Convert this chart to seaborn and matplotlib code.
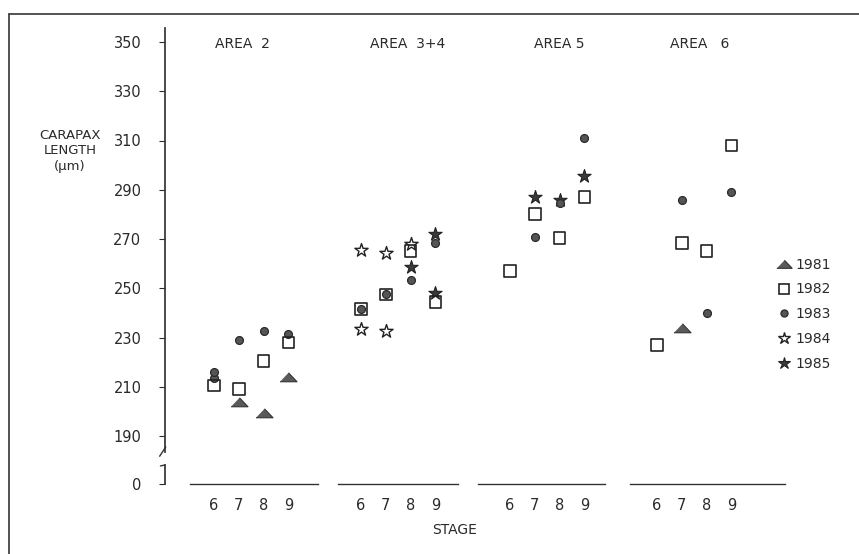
import numpy as np
import pandas as pd
import matplotlib
matplotlib.use("Agg")
import matplotlib.pyplot as plt
import seaborn as sns
from matplotlib.lines import Line2D

# panels, years and ticks
area_names = ["AREA  2", "AREA  3+4", "AREA 5", "AREA   6"]
year_names = [1981, 1982, 1983, 1984, 1985]
stage_ticks = [6, 7, 8, 9]
length_ticks = [190, 210, 230, 250, 270, 290, 310, 330, 350]

# one entry per plotted point
pt_area = [0, 0, 0, 0, 0, 0, 0, 0, 0, 0, 0, 0,
           1, 1, 1, 1, 1, 1, 1, 1, 1, 1, 1, 1, 1, 1, 1, 1,
           2, 2, 2, 2, 2, 2, 2, 2, 2, 2,
           3, 3, 3, 3, 3, 3, 3, 3]
pt_year = [1981, 1981, 1981, 1982, 1982, 1982, 1982, 1983, 1983, 1983, 1983, 1983,
           1982, 1982, 1982, 1982, 1983, 1983, 1983, 1983, 1984, 1984, 1984, 1984, 1984, 1985, 1985, 1985,
           1982, 1982, 1982, 1982, 1983, 1983, 1983, 1985, 1985, 1985,
           1981, 1982, 1982, 1982, 1982, 1983, 1983, 1983]
pt_stage = [7, 8, 9, 6, 7, 8, 9, 6, 6, 7, 8, 9,
            6, 7, 8, 9, 6, 7, 8, 9, 6, 7, 8, 6, 7, 8, 9, 9,
            6, 7, 8, 9, 7, 8, 9, 7, 8, 9,
            7, 6, 7, 8, 9, 7, 8, 9]
pt_length = [204, 199.5, 214, 210.5, 209, 220.5, 228, 213.5, 216, 229, 232.5, 231.5,
             241.5, 247.5, 265, 244.5, 241.5, 247.5, 253.5, 268.5, 265.5, 264.5, 268, 233.5, 232.5,
             258.5, 272, 248,
             257, 280, 270.5, 287, 271, 284.5, 311, 287, 286, 295.5,
             234, 227, 268.5, 265, 308, 286, 240, 289]

df = pd.DataFrame({"area": pt_area, "year": pt_year, "stage": pt_stage, "length": pt_length})

tri = [(-1, -0.5), (1, -0.5), (0, 0.55)]
styles = {
    1981: dict(marker=tri, s=150, color="#5a5a5a", edgecolor="#333333", linewidth=0.8, zorder=3),
    1982: dict(marker="s", s=72, color="none", edgecolor="#222222", linewidth=1.2, zorder=5),
    1983: dict(marker="o", s=32, color="#555555", edgecolor="#2a2a2a", linewidth=0.9, zorder=4),
    1984: dict(marker="*", s=100, color="white", edgecolor="#222222", linewidth=1.0, zorder=3),
    1985: dict(marker="*", s=100, color="#3a3a3a", edgecolor="#222222", linewidth=0.8, zorder=3),
}

sns.set_theme(style="white")
plt.rcParams["font.family"] = ["DejaVu Sans"]
plt.rcParams["text.color"] = "#2a2a2a"
plt.rcParams["xtick.color"] = "#2a2a2a"
plt.rcParams["ytick.color"] = "#2a2a2a"

W, H = 859, 554
fig = plt.figure(figsize=(W / 100, H / 100), dpi=100)

k = 24.8  # pixels per stage
cols = [(165, 318, 214), (338, 458, 361), (478, 605, 510), (630, 785, 657)]
title_px = [215, 370, 534, 670]
top_px, brk_px = 28, 452
low_top, zero_px = 465, 484
y_per_px = 20 / 49.25
y_hi = 350 + (42 - top_px) * y_per_px
y_lo = 350 - (brk_px - 42) * y_per_px

for i, (L, R, S) in enumerate(cols):
    xlim = (6 + (L - S) / k, 6 + (R - S) / k)
    ax = fig.add_axes([L / W, 1 - brk_px / H, (R - L) / W, (brk_px - top_px) / H])
    bx = fig.add_axes([L / W, 1 - zero_px / H, (R - L) / W, (zero_px - low_top) / H])
    sub = df[df.area == i]
    for yr in year_names:
        d = sub[sub.year == yr]
        if len(d):
            sns.scatterplot(data=d, x="stage", y="length", ax=ax, legend=False, **styles[yr])
    ax.set_xlim(xlim)
    ax.set_ylim(y_lo, y_hi)
    ax.set_xlabel("")
    ax.set_ylabel("")
    ax.set_xticks([])
    for sp in ax.spines.values():
        sp.set_visible(False)
    ax.text(6 + (title_px[i] - S) / k, 349.2, area_names[i],
            ha="left", va="center", fontsize=10)

    bx.set_xlim(xlim)
    bx.set_ylim(0, 1)
    for sp in bx.spines.values():
        sp.set_visible(False)
    bx.spines["bottom"].set_visible(True)
    bx.spines["bottom"].set_color("#333333")
    bx.spines["bottom"].set_linewidth(1.0)
    bx.set_xticks(stage_ticks)
    bx.set_xticklabels([str(s) for s in stage_ticks], fontsize=10.5)
    bx.tick_params(axis="x", direction="out", length=3, width=0.8, pad=7)

    if i == 0:
        bx.spines["bottom"].set_bounds(6 + (190 - S) / k, xlim[1])
        ax.spines["left"].set_visible(True)
        ax.spines["left"].set_color("#333333")
        ax.set_yticks(length_ticks)
        ax.set_yticklabels([str(v) for v in length_ticks], fontsize=10.5)
        ax.tick_params(axis="y", direction="out", length=4, width=0.8, pad=13, left=True)
        ax.plot([-0.035, 0.005], [-0.01, 0.012], transform=ax.transAxes,
                color="#333333", lw=1.0, clip_on=False)
        bx.spines["left"].set_visible(True)
        bx.spines["left"].set_color("#333333")
        bx.set_yticks([0])
        bx.set_yticklabels(["0"], fontsize=10.5)
        bx.tick_params(axis="y", direction="out", length=4, width=0.8, pad=13, left=True)
        bx.plot([-0.03, 0.0], [0.95, 1.0], transform=bx.transAxes,
                color="#333333", lw=1.0, clip_on=False)
    else:
        bx.set_yticks([])
        ax.set_yticks([])

fig.text(70 / W, 1 - 151 / H, "CARAPAX\nLENGTH\n(µm)", ha="center", va="center",
         fontsize=9.5, multialignment="center", linespacing=1.25)
fig.text(455 / W, 1 - 530 / H, "STAGE", ha="center", va="center", fontsize=10)

handles = [Line2D([], [], ls="none", marker=styles[y]["marker"],
                  markersize=np.sqrt(styles[y]["s"]) * 0.9,
                  markerfacecolor=styles[y]["color"], markeredgecolor=styles[y]["edgecolor"],
                  markeredgewidth=styles[y]["linewidth"]) for y in year_names]
fig.legend(handles, [str(y) for y in year_names], loc="upper left",
           bbox_to_anchor=(770 / W, 1 - 252 / H), frameon=False, fontsize=10,
           labelspacing=0.78, handletextpad=0.2, handlelength=1.2, borderaxespad=0)

# border of the scanned plate
fig.add_artist(Line2D([9 / W, 9 / W], [0, 1 - 14 / H], color="#444444", lw=1.3))
fig.add_artist(Line2D([9 / W, 1], [1 - 14 / H, 1 - 14 / H], color="#444444", lw=1.3))

fig.savefig("out.png", dpi=100)
